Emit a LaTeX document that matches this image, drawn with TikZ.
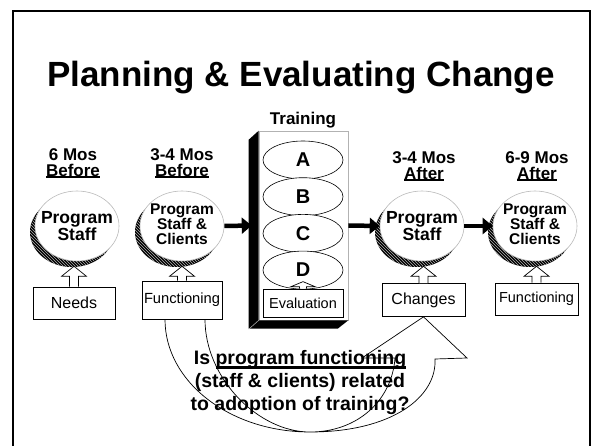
\documentclass[tikz,border=0pt]{standalone}
\usepackage{fontspec}
\setmainfont{Liberation Sans}
\usetikzlibrary{shapes.geometric, arrows.meta, patterns, calc}

\newsavebox\ulbox
% underline: gap below baseline, thickness, text
\newcommand{\ulwith}[3]{\sbox\ulbox{#3}%
  \rlap{\vrule height -#1 depth \dimexpr#1+#2\relax width \wd\ulbox}\usebox\ulbox}
\newcommand{\whenul}[1]{\ulwith{0.3pt}{1.7pt}{#1}}
\newcommand{\quline}[1]{\ulwith{1.7pt}{2.8pt}{#1}}
% hollow block arrow: base, tip, half stem, half head, head length
\newcommand{\hollowup}[5]{%
  \draw[hollow] let \p1=#1, \p2=#2 in
    (\x1-#3,\y1) -- (\x1-#3,\y2-#5) -- (\x1-#4,\y2-#5) -- (\x1,\y2)
    -- (\x1+#4,\y2-#5) -- (\x1+#3,\y2-#5) -- (\x1+#3,\y1);}

\tikzset{
  bub/.style={ellipse, draw=gray!55, line width=0.6pt, fill=white,
    minimum width=84pt, minimum height=70pt, inner sep=0pt},
  bubtxt/.style={font=\fontsize{17.5}{17}\selectfont\bfseries, align=center, inner sep=0pt},
  bubsmall/.style={font=\fontsize{15.5}{15}\selectfont\bfseries},
  when/.style={font=\fontsize{17}{16}\selectfont\bfseries, align=center, inner sep=0pt, anchor=north},
  lblbox/.style={draw, line width=0.7pt, fill=white, font=\fontsize{16}{16}\selectfont, inner sep=0pt},
  module/.style={ellipse, draw, line width=0.6pt, fill=white, minimum width=80pt,
    minimum height=38pt, inner sep=0pt, font=\fontsize{20}{20}\selectfont\bfseries},
  hollow/.style={draw, line width=0.7pt, fill=white},
  bigarr/.style={line width=4.5pt, -{Triangle[length=10pt,width=16pt]}},
  qarrow/.style={draw, line width=0.7pt},
  qtext/.style={font=\fontsize{19.5}{23}\selectfont\bfseries, align=center, inner sep=0pt, anchor=north},
}

\begin{document}
\begin{tikzpicture}[x=1pt, y=-1pt]
\useasboundingbox (0,0) rectangle (602,446);
\draw[line width=2pt] (13,446) -- (13,11) -- (590,11) -- (590,446);

\node[font=\fontsize{35}{40}\selectfont\bfseries, anchor=base] (title) at (301,87)
  {Planning \& Evaluating Change};

% time labels
\node[when] (t1) at (73,148) {6 Mos\\\whenul{Before}};
\node[when] (t2) at (182,148) {3-4 Mos\\\whenul{Before}};
\node[when] (t3) at (424,151) {3-4 Mos\\\whenul{After}};
\node[when] (t4) at (537,151) {6-9 Mos\\\whenul{After}};

% shaded bubbles
\foreach \k/\x in {1/77,2/182,3/422,4/535} {
  \fill[black] (\x-5,232) ellipse (42 and 35);
  \fill[pattern=north west lines, pattern color=gray!60] (\x-5,232) ellipse (42 and 35);
  \node[bub] (e\k) at (\x,226) {};
}
\node[bubtxt] (n1) at (e1) {Program\\Staff};
\node[bubtxt, bubsmall] (n2) at ([yshift=2pt]e2.center) {Program\\Staff \&\\Clients};
\node[bubtxt] (n3) at (e3) {Program\\Staff};
\node[bubtxt, bubsmall] (n4) at ([yshift=2pt]e4.center) {Program\\Staff \&\\Clients};

% training block
\node[when, anchor=base] (trl) at (303,125) {Training};
\node[draw=gray!60, line width=0.6pt, fill=white, minimum width=89pt,
  minimum height=189pt, inner sep=0pt] (tr) at (303.5,225.5) {};
\fill (tr.north west) -- ++(-10,9) -- ++(0,189) -- ++(89,0) -- (tr.south east)
  -- (tr.south west) -- cycle;
\draw[gray!50, line width=0.5pt] (tr.south west) -- ++(-10,9);
\foreach \l [count=\i from 0] in {A,B,C,D}
  \node[module] (m\l) at (303,{160+36.7*\i}) {\l};
\node[lblbox, minimum width=80pt, minimum height=28pt,
  font=\fontsize{14.5}{15}\selectfont] (ev) at (303,303) {Evaluation};
\hollowup{(ev.north)}{([yshift=7pt]ev.north)}{3.5pt}{12pt}{5pt}

% input boxes
\node[lblbox, minimum width=82pt, minimum height=32pt] (b1) at (74,303) {Needs};
\node[lblbox, minimum width=80pt, minimum height=38pt,
  font=\fontsize{14.7}{15}\selectfont] (b2) at (182,300) {Functioning};
\node[lblbox, minimum width=83pt, minimum height=33pt] (b3) at (423.5,300) {Changes};
\node[lblbox, minimum width=83pt, minimum height=32pt,
  font=\fontsize{14.5}{15}\selectfont] (b4) at (536.5,299) {Functioning};
\foreach \k in {1,...,4} {
  \hollowup{(b\k.north)}{([yshift=-5pt]e\k.south)}{4.5pt}{12.5pt}{10pt}
}

% flow arrows
\draw[bigarr] (e2.east) -- ([xshift=-7pt]tr.west);
\draw[bigarr] (tr.east) -- (e3.west);
\draw[bigarr] (e3.east) -- (e4.west);

% curved question arrow
\draw[qarrow] ($(b2.south)+(-17,0)$) .. controls (165,382) and (230,432) .. (310,432)
  .. controls (392,432) and (437,397) .. (435,359) -- (467,358) -- (b3.south)
  -- (362,358) -- (395,358) .. controls (392,400) and (358,432) .. (310,432)
  .. controls (258,432) and (205,378) .. ($(b2.south)+(23,0)$);
\node[qtext] (q) at (300,350) {Is \quline{program functioning}\\(staff \& clients) related\\to adoption of training?};
\end{tikzpicture}
\end{document}
